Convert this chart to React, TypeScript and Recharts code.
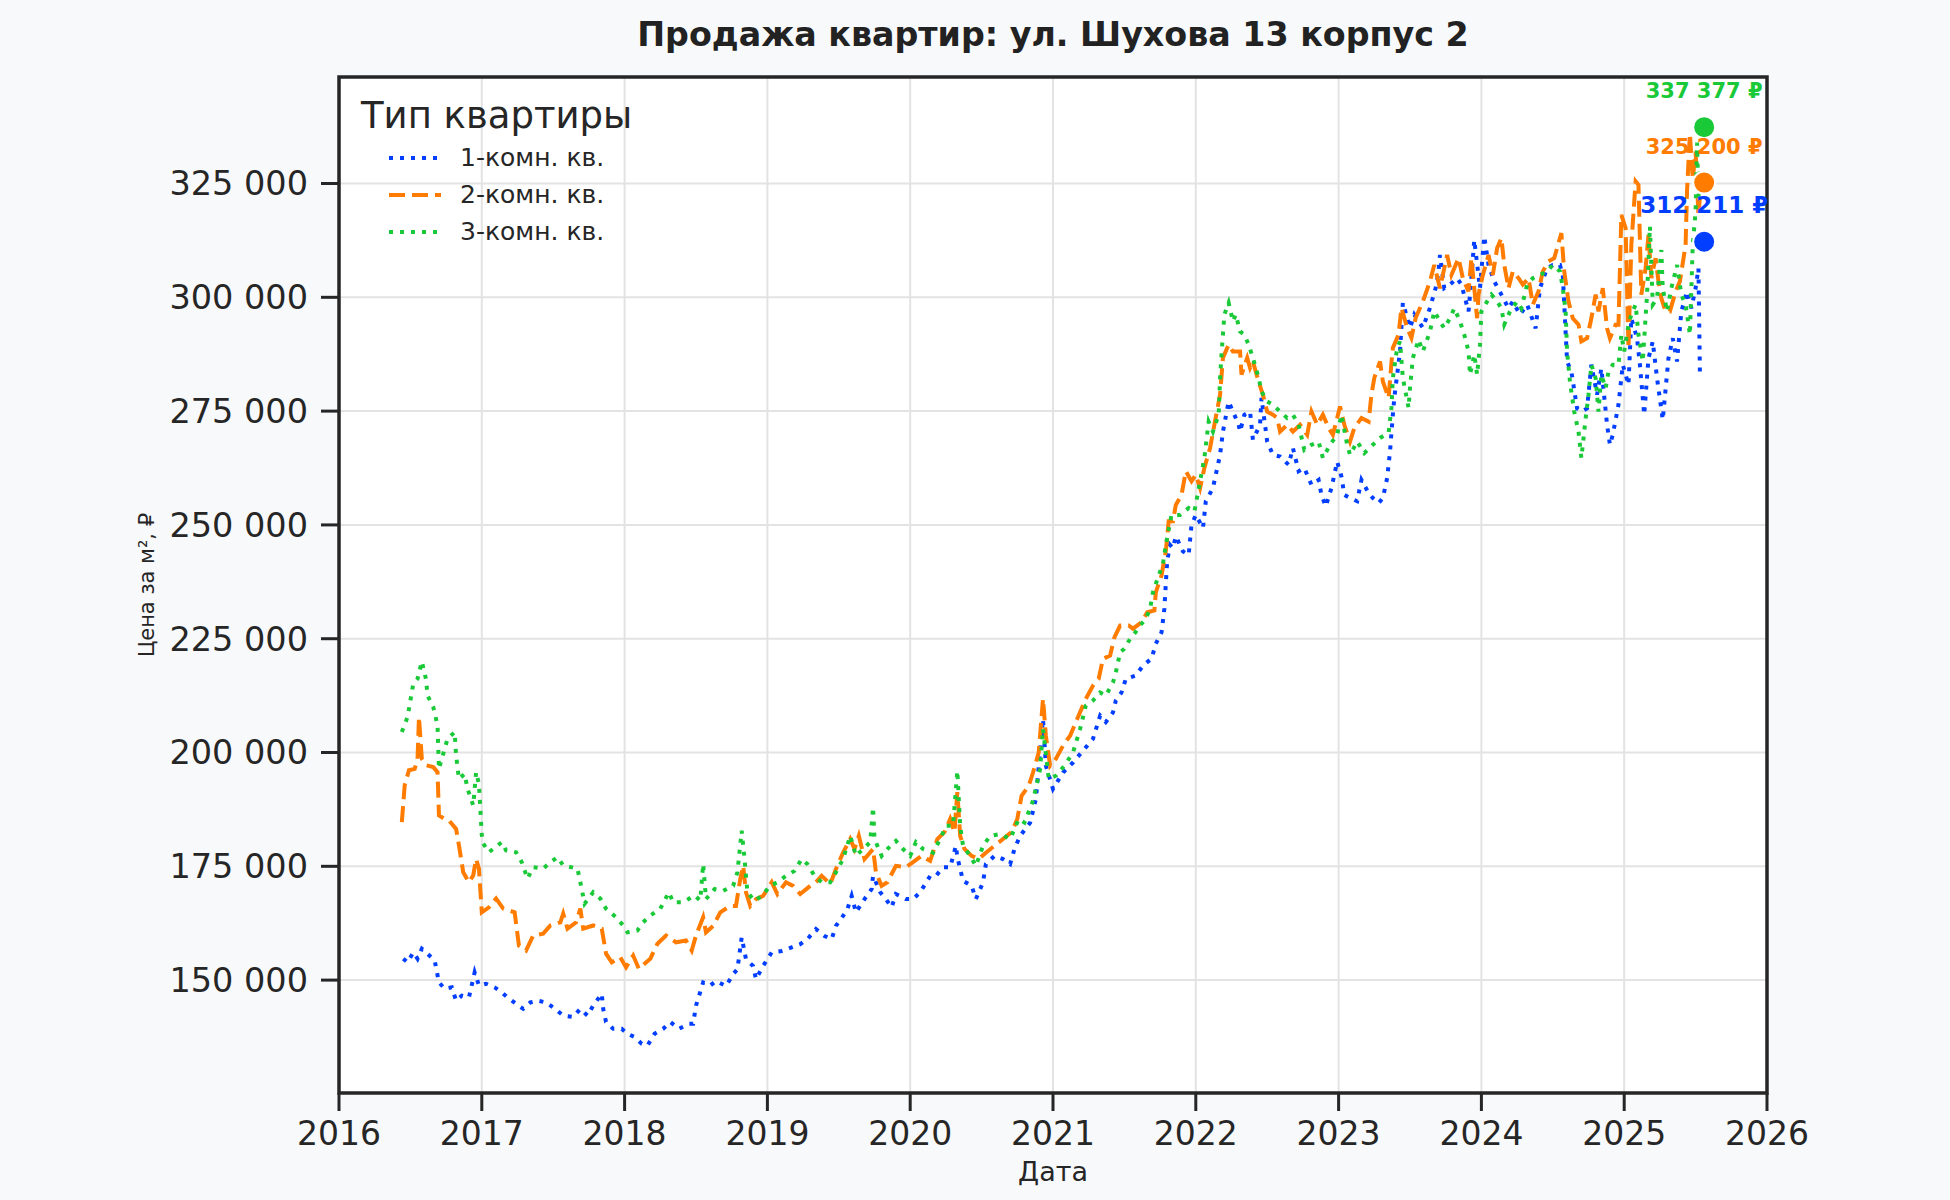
import { LineChart, Line, XAxis, YAxis, CartesianGrid, Legend, ReferenceArea, ReferenceDot } from 'recharts'

// prices are in thousands of rubles per m², x is a decimal year
const ROOM1: [number, number][] = [
  [2016.45, 154.7], [2016.48, 153.9], [2016.52, 156.1], [2016.55, 154.7], [2016.58, 156.9], [2016.62, 155.8],
  [2016.67, 154.3], [2016.70, 149.5], [2016.74, 148.1], [2016.79, 148.4], [2016.82, 145.5], [2016.86, 146.6],
  [2016.91, 146.2], [2016.95, 151.7], [2016.98, 148.8], [2017.03, 149.2], [2017.09, 148.4], [2017.14, 147.3],
  [2017.18, 146.2], [2017.24, 144.8], [2017.29, 143.7], [2017.34, 145.1], [2017.39, 145.5], [2017.45, 145.1],
  [2017.50, 144.0], [2017.57, 142.2], [2017.64, 141.9], [2017.69, 143.7], [2017.74, 142.2], [2017.78, 144.4],
  [2017.84, 147.0], [2017.85, 143.7], [2017.87, 140.8], [2017.92, 139.3], [2017.98, 139.3], [2018.02, 138.2],
  [2018.07, 137.5], [2018.12, 136.0], [2018.16, 135.6], [2018.21, 138.2], [2018.27, 139.3], [2018.32, 140.8],
  [2018.38, 139.3], [2018.45, 140.4], [2018.48, 140.4], [2018.50, 144.4], [2018.55, 149.5], [2018.60, 148.8],
  [2018.64, 149.8], [2018.71, 148.7], [2018.76, 151.3], [2018.79, 152.4], [2018.82, 159.4], [2018.85, 154.6],
  [2018.90, 153.1], [2018.92, 150.2], [2018.97, 153.1], [2019.03, 156.1], [2019.10, 156.4], [2019.17, 157.2],
  [2019.23, 157.9], [2019.28, 159.0], [2019.34, 161.2], [2019.40, 159.7], [2019.45, 159.0], [2019.48, 161.9],
  [2019.53, 164.1], [2019.56, 165.6], [2019.59, 168.5], [2019.62, 164.9], [2019.68, 167.8], [2019.73, 170.0],
  [2019.74, 172.9], [2019.79, 169.3], [2019.83, 167.8], [2019.87, 166.0], [2019.90, 168.9], [2019.97, 167.8],
  [2020.02, 167.8], [2020.07, 169.3], [2020.14, 172.9], [2020.18, 172.9], [2020.23, 174.8], [2020.28, 174.8],
  [2020.32, 179.5], [2020.33, 177.0], [2020.37, 171.8], [2020.43, 170.7], [2020.46, 167.8], [2020.51, 171.5],
  [2020.53, 175.5], [2020.59, 177.3], [2020.65, 176.6], [2020.70, 175.5], [2020.73, 178.8], [2020.77, 181.7],
  [2020.84, 184.6], [2020.88, 189.8], [2020.93, 207.4], [2020.95, 197.1], [2021.00, 192.0], [2021.07, 195.6],
  [2021.14, 197.8], [2021.21, 200.4], [2021.28, 203.0], [2021.33, 208.1], [2021.37, 206.7], [2021.42, 208.8],
  [2021.44, 211.4], [2021.48, 213.2], [2021.51, 216.2], [2021.58, 216.9], [2021.63, 219.1], [2021.69, 220.6],
  [2021.72, 223.9], [2021.76, 226.4], [2021.78, 231.6], [2021.79, 237.1], [2021.80, 242.2], [2021.82, 245.6],
  [2021.84, 244.9], [2021.86, 247.5], [2021.91, 244.2], [2021.95, 243.4], [2021.97, 250.0], [2022.00, 252.2],
  [2022.05, 249.3], [2022.07, 255.2], [2022.12, 258.1], [2022.15, 262.5], [2022.17, 265.4], [2022.19, 270.5],
  [2022.23, 277.1], [2022.26, 274.9], [2022.30, 272.0], [2022.31, 270.5], [2022.34, 274.2], [2022.38, 274.9],
  [2022.40, 268.7], [2022.45, 272.0], [2022.46, 277.9], [2022.50, 268.3], [2022.54, 265.4], [2022.59, 265.0],
  [2022.65, 263.2], [2022.68, 266.9], [2022.72, 261.8], [2022.76, 262.5], [2022.81, 258.8], [2022.86, 259.9],
  [2022.88, 256.6], [2022.91, 254.1], [2022.95, 258.1], [2022.99, 263.9], [2023.02, 260.6], [2023.04, 256.6],
  [2023.08, 255.9], [2023.13, 255.2], [2023.16, 259.9], [2023.21, 257.0], [2023.24, 255.9], [2023.28, 254.8],
  [2023.31, 255.9], [2023.34, 260.3], [2023.36, 266.1], [2023.38, 274.2], [2023.39, 277.9], [2023.43, 288.1],
  [2023.45, 298.8], [2023.50, 293.3], [2023.53, 296.2], [2023.59, 293.3], [2023.64, 297.7], [2023.68, 302.1],
  [2023.70, 305.7], [2023.71, 309.3], [2023.74, 302.0], [2023.78, 302.8], [2023.83, 304.2], [2023.86, 302.8],
  [2023.91, 296.9], [2023.93, 304.2], [2023.95, 312.6], [2023.99, 302.0], [2024.02, 313.4], [2024.05, 307.1],
  [2024.09, 303.5], [2024.14, 300.6], [2024.19, 297.6], [2024.22, 299.1], [2024.27, 296.2], [2024.32, 298.4],
  [2024.38, 293.2], [2024.41, 302.0], [2024.46, 306.4], [2024.50, 307.1], [2024.55, 307.1], [2024.57, 304.9],
  [2024.60, 285.9], [2024.63, 283.7], [2024.67, 275.6], [2024.70, 274.9], [2024.74, 275.6], [2024.77, 285.2],
  [2024.81, 278.6], [2024.84, 284.4], [2024.88, 272.0], [2024.90, 267.6], [2024.92, 269.8], [2024.96, 276.4],
  [2024.99, 285.2], [2025.03, 280.8], [2025.05, 295.4], [2025.09, 291.0], [2025.11, 285.2], [2025.14, 274.2],
  [2025.17, 286.6], [2025.20, 290.3], [2025.23, 282.2], [2025.27, 273.1], [2025.31, 286.6], [2025.34, 291.0],
  [2025.37, 285.9], [2025.40, 296.9], [2025.44, 301.3], [2025.47, 297.6], [2025.50, 302.0], [2025.52, 306.4],
  [2025.53, 283.7],
]

const ROOM2: [number, number][] = [
  [2016.44, 184.7], [2016.46, 192.8], [2016.49, 196.1], [2016.53, 196.4], [2016.55, 198.6], [2016.56, 207.8],
  [2016.58, 198.6], [2016.61, 197.2], [2016.66, 196.8], [2016.69, 195.7], [2016.70, 186.2], [2016.74, 185.4],
  [2016.77, 185.1], [2016.82, 183.2], [2016.84, 179.6], [2016.87, 173.7], [2016.91, 171.5], [2016.94, 173.0],
  [2016.96, 176.6], [2016.98, 174.5], [2017.00, 164.9], [2017.05, 166.0], [2017.10, 167.9], [2017.15, 165.7],
  [2017.23, 164.9], [2017.26, 157.6], [2017.31, 156.5], [2017.36, 159.8], [2017.43, 160.2], [2017.48, 162.0],
  [2017.55, 162.7], [2017.57, 164.6], [2017.60, 161.3], [2017.66, 162.7], [2017.69, 165.7], [2017.71, 161.3],
  [2017.78, 162.0], [2017.84, 161.3], [2017.87, 155.8], [2017.91, 153.9], [2017.97, 155.0], [2018.01, 152.8],
  [2018.06, 155.4], [2018.10, 152.5], [2018.18, 154.7], [2018.23, 158.0], [2018.29, 159.8], [2018.36, 158.3],
  [2018.43, 158.7], [2018.47, 156.5], [2018.50, 159.8], [2018.55, 163.8], [2018.57, 160.5], [2018.62, 161.9],
  [2018.67, 164.9], [2018.74, 166.3], [2018.78, 166.3], [2018.81, 172.2], [2018.83, 175.1], [2018.85, 169.3],
  [2018.88, 166.3], [2018.92, 167.8], [2018.97, 168.5], [2019.03, 171.5], [2019.07, 168.9], [2019.13, 171.5],
  [2019.18, 170.7], [2019.23, 168.9], [2019.30, 170.7], [2019.34, 171.5], [2019.38, 172.9], [2019.44, 171.1],
  [2019.48, 174.4], [2019.53, 178.0], [2019.58, 181.0], [2019.61, 178.8], [2019.64, 181.7], [2019.68, 176.6],
  [2019.74, 178.8], [2019.76, 173.7], [2019.80, 170.7], [2019.84, 171.5], [2019.90, 175.1], [2019.97, 174.8],
  [2020.02, 175.9], [2020.08, 177.3], [2020.14, 176.2], [2020.19, 181.0], [2020.24, 182.5], [2020.28, 185.4],
  [2020.31, 182.5], [2020.33, 191.3], [2020.35, 181.7], [2020.38, 178.8], [2020.43, 177.3], [2020.48, 176.6],
  [2020.53, 178.0], [2020.59, 179.5], [2020.65, 181.0], [2020.71, 182.5], [2020.75, 185.4], [2020.78, 190.5],
  [2020.83, 192.7], [2020.86, 195.6], [2020.90, 200.0], [2020.93, 211.8], [2020.95, 203.7], [2020.98, 197.1],
  [2021.02, 198.6], [2021.07, 201.5], [2021.12, 203.7], [2021.17, 207.4], [2021.23, 211.8], [2021.28, 214.7],
  [2021.32, 216.2], [2021.35, 220.6], [2021.40, 221.3], [2021.43, 225.3], [2021.47, 227.9], [2021.53, 227.9],
  [2021.56, 227.2], [2021.62, 228.6], [2021.66, 230.8], [2021.71, 231.2], [2021.72, 235.2], [2021.76, 238.9],
  [2021.79, 244.2], [2021.81, 250.8], [2021.84, 250.8], [2021.86, 254.4], [2021.90, 256.6], [2021.93, 261.8],
  [2021.97, 259.6], [2022.00, 261.0], [2022.03, 258.1], [2022.06, 262.5], [2022.10, 266.9], [2022.13, 272.0],
  [2022.17, 278.6], [2022.19, 286.7], [2022.23, 289.6], [2022.26, 288.1], [2022.31, 288.1], [2022.32, 283.0],
  [2022.36, 286.7], [2022.38, 284.5], [2022.40, 285.9], [2022.44, 281.5], [2022.47, 278.6], [2022.50, 274.9],
  [2022.54, 274.2], [2022.57, 273.5], [2022.59, 270.5], [2022.64, 272.0], [2022.68, 270.5], [2022.73, 272.0],
  [2022.78, 269.8], [2022.81, 274.9], [2022.85, 272.0], [2022.89, 274.2], [2022.93, 271.3], [2022.96, 269.8],
  [2023.01, 276.0], [2023.04, 272.0], [2023.08, 268.3], [2023.11, 271.3], [2023.16, 273.5], [2023.21, 272.7],
  [2023.23, 278.6], [2023.25, 282.3], [2023.29, 285.9], [2023.31, 281.5], [2023.35, 277.9], [2023.37, 285.6],
  [2023.38, 288.9], [2023.42, 291.8], [2023.44, 297.7], [2023.48, 293.3], [2023.51, 291.1], [2023.54, 295.5],
  [2023.59, 299.1], [2023.64, 303.5], [2023.67, 307.1], [2023.71, 302.0], [2023.76, 309.3], [2023.79, 304.9],
  [2023.84, 308.6], [2023.87, 304.2], [2023.91, 301.3], [2023.93, 308.6], [2023.97, 295.4], [2023.98, 300.6],
  [2024.01, 304.9], [2024.05, 309.3], [2024.08, 304.9], [2024.11, 310.8], [2024.14, 313.0], [2024.16, 307.1],
  [2024.19, 302.0], [2024.22, 305.7], [2024.26, 304.2], [2024.29, 302.8], [2024.33, 304.2], [2024.36, 298.4],
  [2024.40, 301.3], [2024.43, 305.7], [2024.47, 307.9], [2024.51, 308.6], [2024.56, 314.1], [2024.58, 305.7],
  [2024.61, 299.1], [2024.64, 295.4], [2024.68, 294.0], [2024.70, 290.3], [2024.74, 291.0], [2024.77, 295.4],
  [2024.80, 300.6], [2024.82, 296.9], [2024.85, 302.0], [2024.88, 293.2], [2024.90, 291.0], [2024.94, 294.0],
  [2024.96, 294.0], [2024.98, 318.1], [2025.01, 315.2], [2025.03, 288.8], [2025.05, 311.5], [2025.08, 325.5],
  [2025.10, 324.7], [2025.12, 300.6], [2025.15, 306.4], [2025.17, 313.7], [2025.19, 304.2], [2025.22, 308.6],
  [2025.24, 303.5], [2025.26, 299.8], [2025.29, 296.9], [2025.32, 296.9], [2025.36, 301.3], [2025.39, 303.5],
  [2025.43, 311.5], [2025.44, 323.3], [2025.46, 336.0], [2025.48, 326.0], [2025.50, 332.0], [2025.52, 318.0],
  [2025.53, 322.0],
]

const ROOM3: [number, number][] = [
  [2016.44, 204.5], [2016.48, 207.8], [2016.52, 215.1], [2016.55, 216.2], [2016.58, 220.0], [2016.61, 216.0],
  [2016.62, 212.5], [2016.66, 210.0], [2016.69, 206.0], [2016.70, 196.4], [2016.74, 200.8], [2016.76, 203.0],
  [2016.81, 204.5], [2016.82, 199.4], [2016.84, 194.2], [2016.88, 195.3], [2016.90, 192.0], [2016.94, 188.4],
  [2016.96, 195.7], [2016.98, 193.1], [2017.00, 181.8], [2017.01, 180.0], [2017.05, 178.1], [2017.14, 180.3],
  [2017.17, 178.5], [2017.24, 178.1], [2017.28, 175.9], [2017.32, 172.3], [2017.36, 174.8], [2017.43, 174.5],
  [2017.48, 175.9], [2017.53, 177.0], [2017.57, 175.2], [2017.67, 174.5], [2017.69, 171.5], [2017.72, 166.8],
  [2017.78, 169.3], [2017.83, 167.9], [2017.87, 165.7], [2017.94, 163.8], [2017.99, 162.0], [2018.02, 160.5],
  [2018.09, 160.9], [2018.13, 162.7], [2018.18, 164.2], [2018.25, 165.7], [2018.31, 169.3], [2018.34, 167.1],
  [2018.41, 167.1], [2018.49, 168.6], [2018.53, 167.5], [2018.55, 175.5], [2018.57, 167.8], [2018.63, 170.0],
  [2018.69, 169.6], [2018.76, 170.7], [2018.79, 173.7], [2018.82, 182.8], [2018.84, 176.6], [2018.86, 169.3],
  [2018.91, 167.4], [2018.96, 168.5], [2019.02, 170.7], [2019.07, 171.5], [2019.13, 172.9], [2019.19, 174.0],
  [2019.24, 176.6], [2019.28, 175.5], [2019.33, 172.9], [2019.38, 171.5], [2019.44, 171.5], [2019.48, 173.7],
  [2019.53, 176.6], [2019.58, 181.7], [2019.62, 177.3], [2019.67, 178.8], [2019.72, 180.3], [2019.74, 188.0],
  [2019.75, 181.0], [2019.80, 177.3], [2019.84, 178.8], [2019.90, 180.6], [2019.95, 178.8], [2020.00, 177.3],
  [2020.04, 180.3], [2020.09, 178.8], [2020.16, 178.0], [2020.21, 181.0], [2020.25, 183.9], [2020.30, 183.9],
  [2020.33, 196.0], [2020.35, 183.9], [2020.37, 179.5], [2020.42, 177.3], [2020.46, 175.1], [2020.51, 179.5],
  [2020.56, 181.7], [2020.63, 182.1], [2020.70, 181.0], [2020.76, 185.4], [2020.80, 184.6], [2020.86, 189.4],
  [2020.91, 196.4], [2020.93, 205.2], [2020.97, 194.2], [2021.02, 194.9], [2021.08, 197.1], [2021.14, 200.0],
  [2021.19, 205.2], [2021.23, 210.3], [2021.28, 211.4], [2021.33, 213.2], [2021.37, 212.5], [2021.42, 215.4],
  [2021.44, 217.6], [2021.47, 222.0], [2021.50, 222.8], [2021.54, 225.0], [2021.57, 226.1], [2021.61, 227.9],
  [2021.65, 229.4], [2021.68, 231.6], [2021.70, 235.2], [2021.74, 238.9], [2021.77, 241.5], [2021.79, 245.6],
  [2021.83, 252.2], [2021.89, 252.2], [2021.95, 253.7], [2021.99, 252.9], [2022.03, 259.6], [2022.06, 264.7],
  [2022.09, 272.7], [2022.12, 270.5], [2022.16, 274.2], [2022.17, 282.3], [2022.18, 287.4], [2022.20, 296.2],
  [2022.23, 298.8], [2022.26, 294.7], [2022.28, 296.2], [2022.31, 292.5], [2022.34, 291.8], [2022.37, 289.6],
  [2022.40, 286.7], [2022.44, 282.3], [2022.46, 279.3], [2022.50, 277.1], [2022.54, 276.4], [2022.59, 274.9],
  [2022.64, 273.5], [2022.68, 274.2], [2022.72, 272.0], [2022.76, 266.5], [2022.81, 267.6], [2022.86, 268.3],
  [2022.89, 264.7], [2022.94, 267.6], [2022.99, 269.8], [2023.02, 274.2], [2023.06, 267.6], [2023.08, 265.4],
  [2023.13, 268.3], [2023.18, 265.8], [2023.24, 267.6], [2023.29, 269.1], [2023.35, 270.2], [2023.37, 275.7],
  [2023.38, 282.3], [2023.41, 288.9], [2023.43, 290.3], [2023.45, 282.3], [2023.49, 275.7], [2023.50, 280.1],
  [2023.52, 286.7], [2023.56, 290.7], [2023.59, 288.1], [2023.64, 292.5], [2023.67, 296.9], [2023.71, 294.7],
  [2023.74, 293.2], [2023.78, 295.4], [2023.81, 297.6], [2023.85, 294.7], [2023.88, 291.8], [2023.91, 288.1],
  [2023.92, 283.0], [2023.95, 287.4], [2023.97, 283.0], [2023.99, 289.6], [2024.00, 296.9], [2024.04, 299.1],
  [2024.07, 300.6], [2024.11, 299.1], [2024.14, 297.6], [2024.16, 294.0], [2024.20, 296.9], [2024.25, 299.1],
  [2024.28, 297.6], [2024.32, 302.8], [2024.36, 304.2], [2024.41, 304.9], [2024.46, 305.7], [2024.50, 307.1],
  [2024.55, 305.7], [2024.57, 302.0], [2024.59, 296.9], [2024.60, 288.1], [2024.62, 281.5], [2024.65, 274.9],
  [2024.68, 270.5], [2024.70, 264.7], [2024.73, 273.4], [2024.75, 278.6], [2024.77, 285.2], [2024.80, 282.2],
  [2024.82, 274.9], [2024.84, 283.0], [2024.87, 280.0], [2024.89, 283.7], [2024.92, 285.2], [2024.96, 285.2],
  [2024.98, 291.8], [2025.00, 288.1], [2025.03, 294.0], [2025.05, 296.2], [2025.08, 298.4], [2025.10, 291.8],
  [2025.13, 285.9], [2025.16, 300.6], [2025.18, 315.6], [2025.20, 298.4], [2025.23, 299.8], [2025.26, 310.4],
  [2025.27, 302.0], [2025.30, 296.9], [2025.33, 302.0], [2025.37, 307.1], [2025.40, 300.6], [2025.43, 298.4],
  [2025.46, 291.8], [2025.48, 311.5], [2025.50, 318.9], [2025.51, 334.0], [2025.52, 322.0], [2025.53, 328.0],
]

const SERIES_NAMES = ['1-комн. кв.', '2-комн. кв.', '3-комн. кв.']
const SERIES_COLORS = ['#023eff', '#ff7c00', '#1ac938']
const SERIES_DASH = ['4 7', '16 7', '4 7']

// latest values, shown as dots with labels
const LAST_DATE = 2025.56
const LAST_VALUES = [312211, 325200, 337377]
const LAST_LABEL_SIZE = [23, 21, 21]

const YEAR_TICKS = [2016, 2017, 2018, 2019, 2020, 2021, 2022, 2023, 2024, 2025, 2026]
const PRICE_TICKS = [150000, 175000, 200000, 225000, 250000, 275000, 300000, 325000]
const Y_DOMAIN: [number, number] = [125200, 348400]

const INK = '#262626'
const FONT = '"DejaVu Sans", sans-serif'

const toRows = (pts: [number, number][]) => pts.map(([t, v]) => ({ t, v: v * 1000 }))
const groupDigits = (n: number) => String(Math.round(n)).replace(/\B(?=(\d{3})+(?!\d))/g, ' ')

const seriesRows = [toRows(ROOM1), toRows(ROOM2), toRows(ROOM3)]

function LegendBox() {
  return (
    <div style={{ fontFamily: FONT, color: INK }}>
      <div style={{ fontSize: 37, lineHeight: '40px' }}>Тип квартиры</div>
      <div style={{ marginTop: 3 }}>
        {SERIES_NAMES.map((name, i) => (
          <div key={name} style={{ display: 'flex', alignItems: 'center', height: 37 }}>
            <svg width={52} height={10} style={{ marginLeft: 28, marginRight: 19 }}>
              <line x1={0} y1={5} x2={52} y2={5} stroke={SERIES_COLORS[i]} strokeWidth={4} strokeDasharray={SERIES_DASH[i]} />
            </svg>
            <span style={{ fontSize: 25 }}>{name}</span>
          </div>
        ))}
      </div>
    </div>
  )
}

export default function App() {
  return (
    <div style={{ position: 'absolute', left: 0, top: 0, width: 1950, height: 1200, background: '#f8f9fa', fontFamily: FONT }}>
      <div style={{ position: 'absolute', left: 339, width: 1428, top: 14, textAlign: 'center', fontSize: 33.3, fontWeight: 'bold', color: '#222', lineHeight: '42px' }}>
        Продажа квартир: ул. Шухова 13 корпус 2
      </div>
      <LineChart width={1950} height={1200} margin={{ top: 77, right: 183, bottom: 0, left: 0 }}>
        <CartesianGrid fill="#ffffff" stroke="#e3e3e3" strokeWidth={2} />
        <XAxis
          type="number" dataKey="t" domain={[2016, 2026]} ticks={YEAR_TICKS} allowDataOverflow
          height={107} axisLine={false} tickSize={18} tickMargin={11}
          tickLine={{ stroke: INK, strokeWidth: 3 }}
          tick={{ fontSize: 33, fill: INK }}
          label={{ value: 'Дата', position: 'insideBottom', offset: 19, fontSize: 27, fill: INK }}
        />
        <YAxis
          type="number" domain={Y_DOMAIN} ticks={PRICE_TICKS} allowDataOverflow
          width={339} axisLine={false} tickSize={18} tickMargin={13}
          tickLine={{ stroke: INK, strokeWidth: 3 }}
          tick={{ fontSize: 33.5, fill: INK }}
          tickFormatter={groupDigits}
          label={{ value: 'Цена за м², ₽', angle: -90, position: 'insideLeft', offset: 147, fontSize: 21, fill: INK, style: { textAnchor: 'middle' } }}
        />
        {seriesRows.map((rows, i) => (
          <Line
            key={SERIES_NAMES[i]} name={SERIES_NAMES[i]} data={rows} dataKey="v" type="linear"
            stroke={SERIES_COLORS[i]} strokeWidth={4} strokeDasharray={SERIES_DASH[i]}
            dot={false} activeDot={false} isAnimationActive={false}
          />
        ))}
        <ReferenceArea x1={2016} x2={2026} y1={Y_DOMAIN[0]} y2={Y_DOMAIN[1]} fill="none" stroke={INK} strokeWidth={3.5} />
        {LAST_VALUES.map((v, i) => (
          <ReferenceDot
            key={i} x={LAST_DATE} y={v} r={11} fill={SERIES_COLORS[i]} stroke="#ffffff" strokeWidth={2}
            label={{ value: `${groupDigits(v)} ₽`, position: 'top', offset: 18, fill: SERIES_COLORS[i], fontSize: LAST_LABEL_SIZE[i], fontWeight: 'bold' }}
          />
        ))}
        <Legend
          layout="vertical" align="center" verticalAlign="middle"
          wrapperStyle={{ left: 361, top: 96, width: 'auto' }}
          content={() => <LegendBox />}
        />
      </LineChart>
    </div>
  )
}
